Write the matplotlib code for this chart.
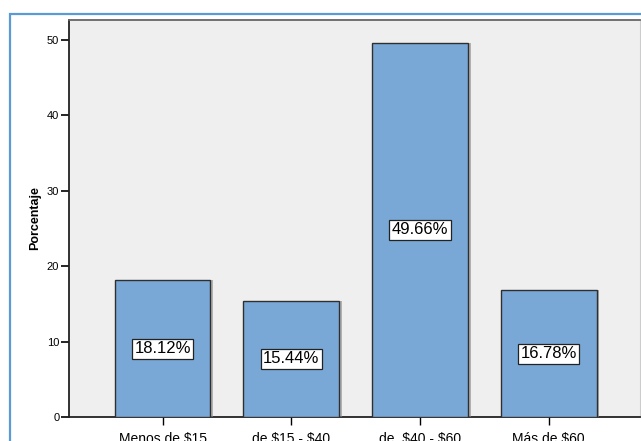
import matplotlib.pyplot as plt
import matplotlib.patheffects as pe
from matplotlib.patches import Rectangle

plt.rcParams['font.family'] = ['Liberation Sans', 'DejaVu Sans']
plt.rcParams['text.parse_math'] = False

# price ranges and share of respondents (%)
categorias = ['Menos de $15', 'de $15 - $40', 'de  $40 - $60', 'Más de $60']
porcentajes = [18.12, 15.44, 49.66, 16.78]
etiquetas = ['18.12%', '15.44%', '49.66%', '16.78%']

fig = plt.figure(figsize=(6.41, 4.41), dpi=100)
ax = fig.add_axes([69 / 641, 24 / 441, 571 / 641, 397 / 441])
ax.set_facecolor('#efefef')

x = range(len(categorias))
bars = ax.bar(x, porcentajes, width=0.745, color='#7aa8d6', edgecolor='#2f2f2f',
              linewidth=1.0, zorder=3)
for b in bars:
    b.set_path_effects([pe.SimplePatchShadow(offset=(2, 0), shadow_rgbFace='#888888', alpha=0.6),
                        pe.Normal()])

for xi, v, t in zip(x, porcentajes, etiquetas):
    ax.text(xi, v / 2, t, ha='center', va='center', fontsize=12, zorder=5,
            bbox=dict(boxstyle='square,pad=0.15', facecolor='white',
                      edgecolor='#222222', linewidth=0.9))

ax.set_xlim(-0.727, 3.71)
ax.set_ylim(0, 52.65)
ax.set_yticks([0, 10, 20, 30, 40, 50])
ax.set_xticks(list(x))
ax.set_xticklabels(categorias, fontsize=10)
ax.tick_params(axis='y', labelsize=8, length=6, width=1.2, pad=1)
ax.tick_params(axis='x', length=6, width=1.0, pad=5)

ax.set_ylabel('Porcentaje', fontsize=9, fontweight='bold', labelpad=4)

ax.spines['left'].set_color('#222222')
ax.spines['left'].set_linewidth(1.3)
ax.spines['bottom'].set_color('#222222')
ax.spines['bottom'].set_linewidth(1.3)
ax.spines['top'].set_color('#666666')
ax.spines['top'].set_linewidth(1.3)
ax.spines['right'].set_color('#cccccc')

# outer blue frame
fig.patches.append(Rectangle((10 / 641, -0.1), 1.0, (441 - 14) / 441 + 0.1,
                             transform=fig.transFigure, fill=False,
                             edgecolor='#5b9bd5', linewidth=1.6))

fig.savefig('out.png', dpi=100)
